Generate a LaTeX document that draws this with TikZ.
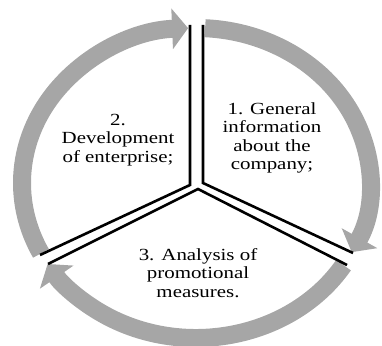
\documentclass[tikz,border=0pt]{standalone}
\usepackage{fontspec}
\setmainfont{Liberation Serif}
\usepackage{xcolor}
\usetikzlibrary{arrows.meta,positioning}
\definecolor{ringgray}{RGB}{166,166,166}
\tikzset{
  ring/.style={
    draw = ringgray,
    line width = 18pt,
    x radius = 174,
    y radius = 155,
    -{Triangle[width=40pt,length=16pt]}
  },
  divider/.style={
    draw,
    line width = 2.6pt,
    line join = miter
  },
  step_label/.style={
    align = center,
    inner sep = 0pt,
    font = \fontsize{17}{18.3}\selectfont,
    xscale = 1.23,
    transform shape
  }
}

\begin{document}
\begin{tikzpicture}[x=1pt,y=1pt]
    \useasboundingbox (0,0) rectangle (382,345);

         \coordinate (c) at (196,162);

         % grey ring, three arrows running clockwise
         \draw[ring] (c) ++(87:174 and 155) arc[start angle=87, end angle=-26.5];
         \draw[ring] (c) ++(-32:174 and 155) arc[start angle=-32, end angle=-148.5];
         \draw[ring] (c) ++(207:174 and 155) arc[start angle=207, end angle=92.6];

         % the three double dividers
         \coordinate (jl) at (190,160);
         \coordinate (jr) at (203,162);
         \coordinate (jb) at (198,156);

         \draw[divider] (190,320) -- (jl) -- (40,90);
         \draw[divider] (203,320) -- (jr) -- (353,92);
         \draw[divider] (48,81) -- (jb) -- (347,80);

         \node[step_label] (info) at (272,207) {1. General\\information\\about the\\company;};
         \node[step_label] (devel) at (118,205) {2.\\Development\\of enterprise;};
         \node[step_label] (promo) at (198,72) {3. Analysis of\\promotional\\measures.};
    \end{tikzpicture}
\end{document}
